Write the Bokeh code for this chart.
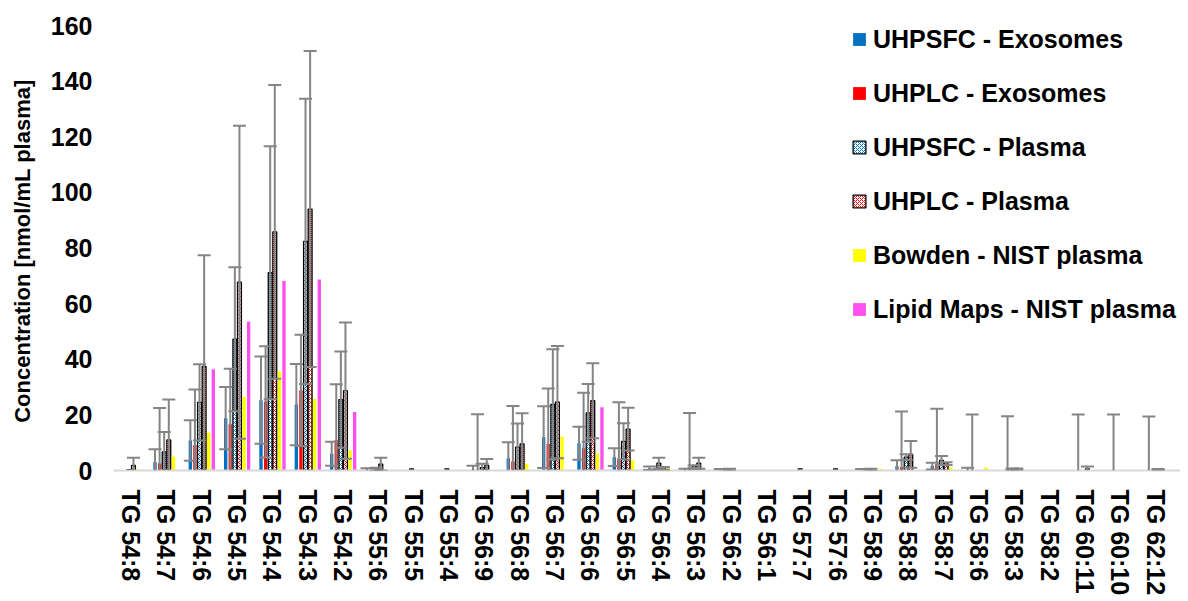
from bokeh.plotting import figure
from bokeh.models import (ColumnDataSource, Range1d, FixedTicker, Whisker, TeeHead,
                          Legend, LegendItem)
from bokeh.embed import file_html
from bokeh.resources import INLINE

categories = ["TG 54:8", "TG 54:7", "TG 54:6", "TG 54:5", "TG 54:4", "TG 54:3", "TG 54:2",
              "TG 55:6", "TG 55:5", "TG 55:4", "TG 56:9", "TG 56:8", "TG 56:7", "TG 56:6",
              "TG 56:5", "TG 56:4", "TG 56:3", "TG 56:2", "TG 56:1", "TG 57:7", "TG 57:6",
              "TG 58:9", "TG 58:8", "TG 58:7", "TG 58:6", "TG 58:3", "TG 58:2", "TG 60:11",
              "TG 60:10", "TG 62:12"]

uhpsfc_exo = [0, 3.1, 10.8, 18.8, 25.3, 23.7, 6.0, 0.3, 0, 0, 0.3, 4.4, 12.0, 9.8, 4.8,
              0.8, 0.2, 0.2, 0.1, 0, 0, 0.2, 1.5, 1.6, 0.3, 0, 0.1, 0, 0, 0]
uhpsfc_exo_sd = [0, 4.5, 7.3, 11.2, 15.7, 14.6, 4.3, 0.5, 0, 0, 1.4, 5.8, 11.1, 5.9, 3.2,
                 0.6, 0.4, 0.3, 0, 0, 0, 0.3, 2.2, 1.2, 0.7, 0, 0, 0, 0, 0]

uhplc_exo = [0, 2.5, 9.1, 16.6, 24.7, 28.8, 11.0, 0, 0, 0, 0.2, 3.2, 9.5, 8.0, 4.0,
             0, 0.7, 0, 0, 0, 0, 0, 1.2, 2.2, 0.1, 0.1, 0, 0.1, 0.1, 0.1]
uhplc_exo_sd = [0, 20, 20, 20, 20, 20, 20, 0, 0, 0, 20, 20, 20, 20, 20.5,
                0, 20, 0, 0, 0, 0, 0, 20, 20, 20, 19.4, 0, 20, 20, 19.3]

uhpsfc_plasma = [0.3, 6.7, 24.5, 47.2, 71.1, 82.4, 25.5, 0.5, 0.6, 0.6, 1.0, 8.4, 23.8, 20.7,
                 10.5, 2.6, 1.4, 0.3, 0, 0.6, 0.6, 0.3, 4.8, 3.6, 0, 0.5, 0, 0, 0, 0]
uhpsfc_plasma_sd = [0, 7.1, 13.7, 25.9, 45.5, 51.3, 17.3, 0.5, 0, 0, 1.4, 8.5, 19.8, 10.4,
                    6.5, 2.0, 0.5, 0.3, 0, 0, 0, 0.3, 1.0, 1.6, 0, 0.2, 0, 0, 0, 0]

uhplc_plasma = [1.8, 11.0, 37.4, 67.7, 85.8, 94.0, 28.7, 2.3, 0, 0, 1.8, 9.6, 24.6, 25.1,
                14.9, 0.8, 2.6, 0, 0, 0, 0, 0, 5.8, 2.5, 0, 0.5, 0, 0.6, 0, 0.3]
uhplc_plasma_sd = [2.8, 14.5, 40.0, 56.3, 52.8, 56.8, 24.5, 2.3, 0, 0, 2.3, 11.0, 20.2, 13.5,
                   7.7, 0.5, 2.0, 0, 0, 0, 0, 0, 4.8, 0.5, 0, 0.2, 0, 0.8, 0, 0.2]

bowden_nist = [0.5, 5.0, 13.6, 26.4, 35.6, 25.7, 7.3, 0, 0, 0, 0, 2.4, 12.1, 6.1, 3.7,
               1.2, 0.5, 0, 0, 0, 0, 0.6, 0, 1.1, 1.1, 0, 0, 0, 0, 0]

lipidmaps_nist = [0, 0, 36.4, 53.5, 68.1, 68.7, 21.0, 0, 0, 0, 0, 0, 0, 22.7, 0,
                  0, 0, 0, 0, 0, 0, 0, 0, 0, 0, 0, 0, 0, 0, 0]

series = [
    ("UHPSFC - Exosomes", uhpsfc_exo, uhpsfc_exo_sd, "#0070C0", None, None),
    ("UHPLC - Exosomes", uhplc_exo, uhplc_exo_sd, "#FF0000", None, None),
    ("UHPSFC - Plasma", uhpsfc_plasma, uhpsfc_plasma_sd, "white", "#0070C0", "x"),
    ("UHPLC - Plasma", uhplc_plasma, uhplc_plasma_sd, "white", "#FF0000", "x"),
    ("Bowden - NIST plasma", bowden_nist, None, "#FFFF00", None, None),
    ("Lipid Maps - NIST plasma", lipidmaps_nist, None, "#FF4FEF", None, None),
]

FONT = "Liberation Sans"
n = len(categories)
pitch = 0.130

# frame spans 113..1180 px; categories keep a 35.33 px pitch
p = figure(width=1180, height=598, x_range=Range1d(-0.5, n - 0.3), y_range=Range1d(0, 160),
           output_backend="svg", toolbar_location=None,
           min_border_left=113, min_border_right=0, min_border_top=25, min_border_bottom=125)
p.outline_line_color = None
p.xgrid.visible = False
p.ygrid.visible = False

legend_items = []
whisker_sets = []
for k, (name, vals, sds, color, hcolor, hpat) in enumerate(series):
    off = (k - 2.5) * pitch
    xs = [i + off for i in range(n)]
    tops = [v if v > 0 else float("nan") for v in vals]
    src = ColumnDataSource(dict(x=xs, top=tops))
    kw = dict(x="x", top="top", bottom=0, source=src, fill_color=color)
    if hpat:
        kw.update(width=0.11, line_color="black", line_width=1.3, hatch_pattern=hpat,
                  hatch_color=hcolor, hatch_scale=4, hatch_weight=1)
    else:
        kw.update(width=0.095, line_color=None)
    r = p.vbar(**kw)
    legend_items.append(LegendItem(label=name, renderers=[r]))
    if sds is not None:
        full = dict(x=[], upper=[], lower=[])
        half = dict(x=[], upper=[], lower=[])
        for i in range(n):
            if sds[i] <= 0:
                continue
            lo = vals[i] - sds[i]
            hi = vals[i] + sds[i]
            d = full if lo >= 0 else half
            d["x"].append(xs[i])
            d["upper"].append(hi)
            d["lower"].append(max(lo, 0))
        whisker_sets.append((full, True))
        whisker_sets.append((half, False))

ERR = "#858585"
for data, with_lower in whisker_sets:
    if not data["x"]:
        continue
    w = Whisker(source=ColumnDataSource(data), base="x", upper="upper", lower="lower",
                line_color=ERR, line_width=2, level="overlay",
                upper_head=TeeHead(size=13, line_color=ERR, line_width=2),
                lower_head=TeeHead(size=13, line_color=ERR, line_width=2) if with_lower else None)
    p.add_layout(w)

# axes
xa = p.xaxis[0]
xa.ticker = FixedTicker(ticks=list(range(n)))
xa.major_label_overrides = {i: c for i, c in enumerate(categories)}
xa.major_label_orientation = "vertical"
xa.major_label_text_font = FONT
xa.major_label_text_font_style = "bold"
xa.major_label_text_font_size = "25px"
xa.major_label_text_color = "black"
xa.major_label_standoff = 19
xa.major_tick_line_color = None
xa.minor_tick_line_color = None
xa.major_tick_out = 0
xa.axis_line_color = "#D9D9D9"
xa.axis_line_width = 2

ya = p.yaxis[0]
ya.ticker = FixedTicker(ticks=list(range(0, 161, 20)))
ya.major_label_text_font = FONT
ya.major_label_text_font_style = "bold"
ya.major_label_text_font_size = "25px"
ya.major_label_text_color = "black"
ya.major_label_standoff = 21
ya.major_tick_line_color = None
ya.minor_tick_line_color = None
ya.major_tick_out = 0
ya.axis_line_color = None
ya.axis_label = "Concentration [nmol/mL  plasma]"
ya.axis_label_text_font = FONT
ya.axis_label_text_font_style = "bold"
ya.axis_label_text_font_size = "22px"
ya.axis_label_text_color = "black"
ya.axis_label_standoff = 13

legend = Legend(items=legend_items, location=(738, 146), orientation="vertical")
legend.label_text_font = FONT
legend.label_text_font_style = "bold"
legend.label_text_font_size = "25px"
legend.label_text_color = "black"
legend.label_height = 30
legend.glyph_height = 16
legend.glyph_width = 16
legend.label_standoff = 6
legend.spacing = 24
legend.padding = 0
legend.margin = 0
legend.border_line_color = None
legend.background_fill_alpha = 0
p.add_layout(legend)

open("out.html", "w").write(file_html(p, INLINE))
